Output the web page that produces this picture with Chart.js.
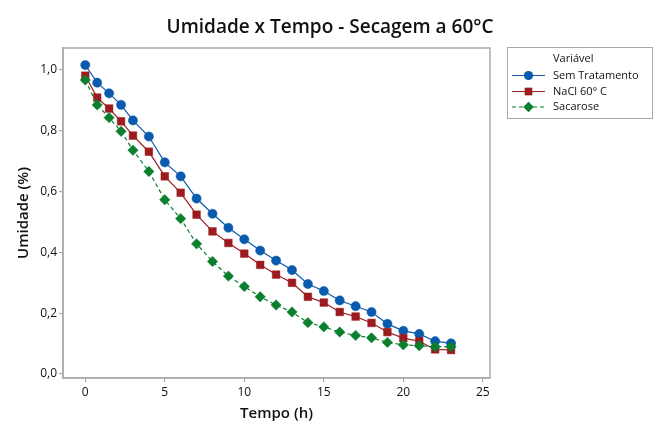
<!DOCTYPE html>
<html>
<head>
<meta charset="utf-8">
<script src="https://cdn.jsdelivr.net/npm/chart.js"></script>
<style>
  html, body { margin: 0; padding: 0; background: #ffffff; }
  #wrap { width: 658px; height: 424px; position: relative; }
</style>
</head>
<body>
<div id="wrap"><canvas id="c" width="658" height="424"></canvas></div>
<script>
// ---- data ----
const chartTitle = 'Umidade x Tempo - Secagem a 60°C';
const xTitle = 'Tempo (h)';
const yTitle = 'Umidade (%)';
const legendTitle = 'Variável';
const seriesNames = ['Sem Tratamento', 'NaCl 60° C', 'Sacarose'];
const tempo = [0, 0.75, 1.5, 2.25, 3, 4, 5, 6, 7, 8, 9, 10, 11, 12, 13, 14, 15, 16, 17, 18, 19, 20, 21, 22, 23];
const semTratamento = [1.016, 0.958, 0.923, 0.885, 0.834, 0.781, 0.696, 0.650, 0.577, 0.527, 0.481, 0.443, 0.406, 0.373, 0.342, 0.296, 0.273, 0.242, 0.223, 0.204, 0.165, 0.142, 0.132, 0.108, 0.101];
const nacl = [0.981, 0.909, 0.873, 0.831, 0.784, 0.731, 0.650, 0.596, 0.524, 0.469, 0.431, 0.396, 0.359, 0.327, 0.300, 0.254, 0.235, 0.204, 0.189, 0.168, 0.138, 0.118, 0.108, 0.081, 0.079];
const sacarose = [0.967, 0.885, 0.843, 0.798, 0.736, 0.666, 0.573, 0.511, 0.428, 0.370, 0.322, 0.288, 0.254, 0.227, 0.204, 0.169, 0.155, 0.138, 0.127, 0.119, 0.104, 0.096, 0.093, 0.090, 0.090];
const xTicks = [0, 5, 10, 15, 20, 25];
const yTicks = [0, 0.2, 0.4, 0.6, 0.8, 1.0];

// ---- styles ----
const FONT = '"Open Sans", "Noto Sans", sans-serif';
const colors = ['#0a5aad', '#9b1b1e', '#0a7f2e'];
const pointStyles = ['circle', 'rect', 'rectRot'];
const radii = [4.6, 5.4, 5.2];
const dashes = [[], [], [4, 3]];
const FRAME = '#ababab';

const allSeries = [semTratamento, nacl, sacarose];
const datasets = allSeries.map((vals, i) => ({
  label: seriesNames[i],
  data: tempo.map((t, j) => ({ x: t, y: vals[j] })),
  borderColor: colors[i],
  backgroundColor: colors[i],
  pointBackgroundColor: colors[i],
  pointBorderColor: colors[i],
  pointStyle: pointStyles[i],
  pointRadius: radii[i],
  pointBorderWidth: 0.5,
  borderWidth: 1.2,
  borderDash: dashes[i],
  tension: 0,
  fill: false,
  order: 2 - i
}));

function drawMarker(ctx, style, r, x, y, color) {
  ctx.save();
  ctx.fillStyle = color;
  ctx.beginPath();
  if (style === 'circle') {
    ctx.arc(x, y, r, 0, Math.PI * 2);
  } else if (style === 'rect') {
    const s = r * Math.SQRT1_2;
    ctx.rect(x - s, y - s, 2 * s, 2 * s);
  } else {
    ctx.moveTo(x, y - r);
    ctx.lineTo(x + r, y);
    ctx.lineTo(x, y + r);
    ctx.lineTo(x - r, y);
    ctx.closePath();
  }
  ctx.fill();
  ctx.restore();
}

const decorPlugin = {
  id: 'decor',
  beforeDatasetsDraw(chart) {
    const { ctx, chartArea: a } = chart;
    ctx.save();
    ctx.strokeStyle = FRAME;
    ctx.lineWidth = 1.5;
    ctx.strokeRect(a.left, a.top, a.right - a.left, a.bottom - a.top);
    ctx.restore();
  },
  afterDraw(chart) {
    const { ctx } = chart;
    ctx.save();
    // title
    ctx.fillStyle = '#111111';
    ctx.font = '600 19px ' + FONT;
    ctx.textAlign = 'center';
    ctx.textBaseline = 'alphabetic';
    ctx.fillText(chartTitle, 330, 33);
    // legend
    const bx = 507, by = 47, bw = 145, bh = 71;
    ctx.strokeStyle = '#a8a8a8';
    ctx.lineWidth = 1;
    ctx.strokeRect(bx + 0.5, by + 0.5, bw, bh);
    ctx.font = '11px ' + FONT;
    ctx.textAlign = 'left';
    ctx.textBaseline = 'middle';
    ctx.fillStyle = '#111111';
    ctx.fillText(legendTitle, 553, 59);
    const ys = [75.5, 91.5, 107];
    chart.data.datasets.forEach((ds, i) => {
      const y = ys[i];
      ctx.save();
      ctx.strokeStyle = ds.borderColor;
      ctx.lineWidth = 1.2;
      ctx.setLineDash(ds.borderDash || []);
      ctx.beginPath();
      ctx.moveTo(512, y);
      ctx.lineTo(545, y);
      ctx.stroke();
      ctx.restore();
      drawMarker(ctx, ds.pointStyle, ds.pointRadius, 528.5, y, ds.pointBackgroundColor);
      ctx.fillStyle = '#111111';
      ctx.fillText(ds.label, 553, y);
    });
    ctx.restore();
  }
};

new Chart(document.getElementById('c'), {
  type: 'line',
  data: { datasets },
  options: {
    responsive: false,
    animation: false,
    devicePixelRatio: 1,
    layout: { padding: { top: 48, right: 168, left: 0, bottom: 0 } },
    plugins: {
      legend: { display: false },
      tooltip: { enabled: false },
      title: { display: false }
    },
    scales: {
      x: {
        type: 'linear',
        min: -1.4,
        max: 25.45,
        afterBuildTicks: (s) => { s.ticks = xTicks.map(v => ({ value: v })); },
        afterFit: (s) => { s.height = 46; },
        grid: { drawOnChartArea: false, drawTicks: true, tickLength: 4, color: FRAME, lineWidth: 1.2 },
        border: { display: true, color: FRAME, width: 1.5 },
        ticks: {
          padding: 3,
          color: '#111111',
          font: { family: FONT, size: 12 },
          maxRotation: 0,
          callback: (v) => String(v)
        },
        title: {
          display: true,
          text: xTitle,
          color: '#111111',
          font: { family: FONT, size: 15, weight: '600' },
          padding: { top: 0, bottom: 1 }
        }
      },
      y: {
        type: 'linear',
        min: -0.013,
        max: 1.072,
        afterBuildTicks: (s) => { s.ticks = yTicks.map(v => ({ value: v })); },
        afterFit: (s) => { s.width = 63; },
        grid: { drawOnChartArea: false, drawTicks: true, tickLength: 4, color: FRAME, lineWidth: 1.2 },
        border: { display: true, color: FRAME, width: 1.5 },
        ticks: {
          padding: 2,
          color: '#111111',
          font: { family: FONT, size: 12 },
          callback: (v) => Number(v).toFixed(1).replace('.', ',')
        },
        title: {
          display: true,
          text: yTitle,
          color: '#111111',
          font: { family: FONT, size: 15, weight: '600' },
          padding: { top: 14.5, bottom: 0 }
        }
      }
    }
  },
  plugins: [decorPlugin]
});
</script>
</body>
</html>
